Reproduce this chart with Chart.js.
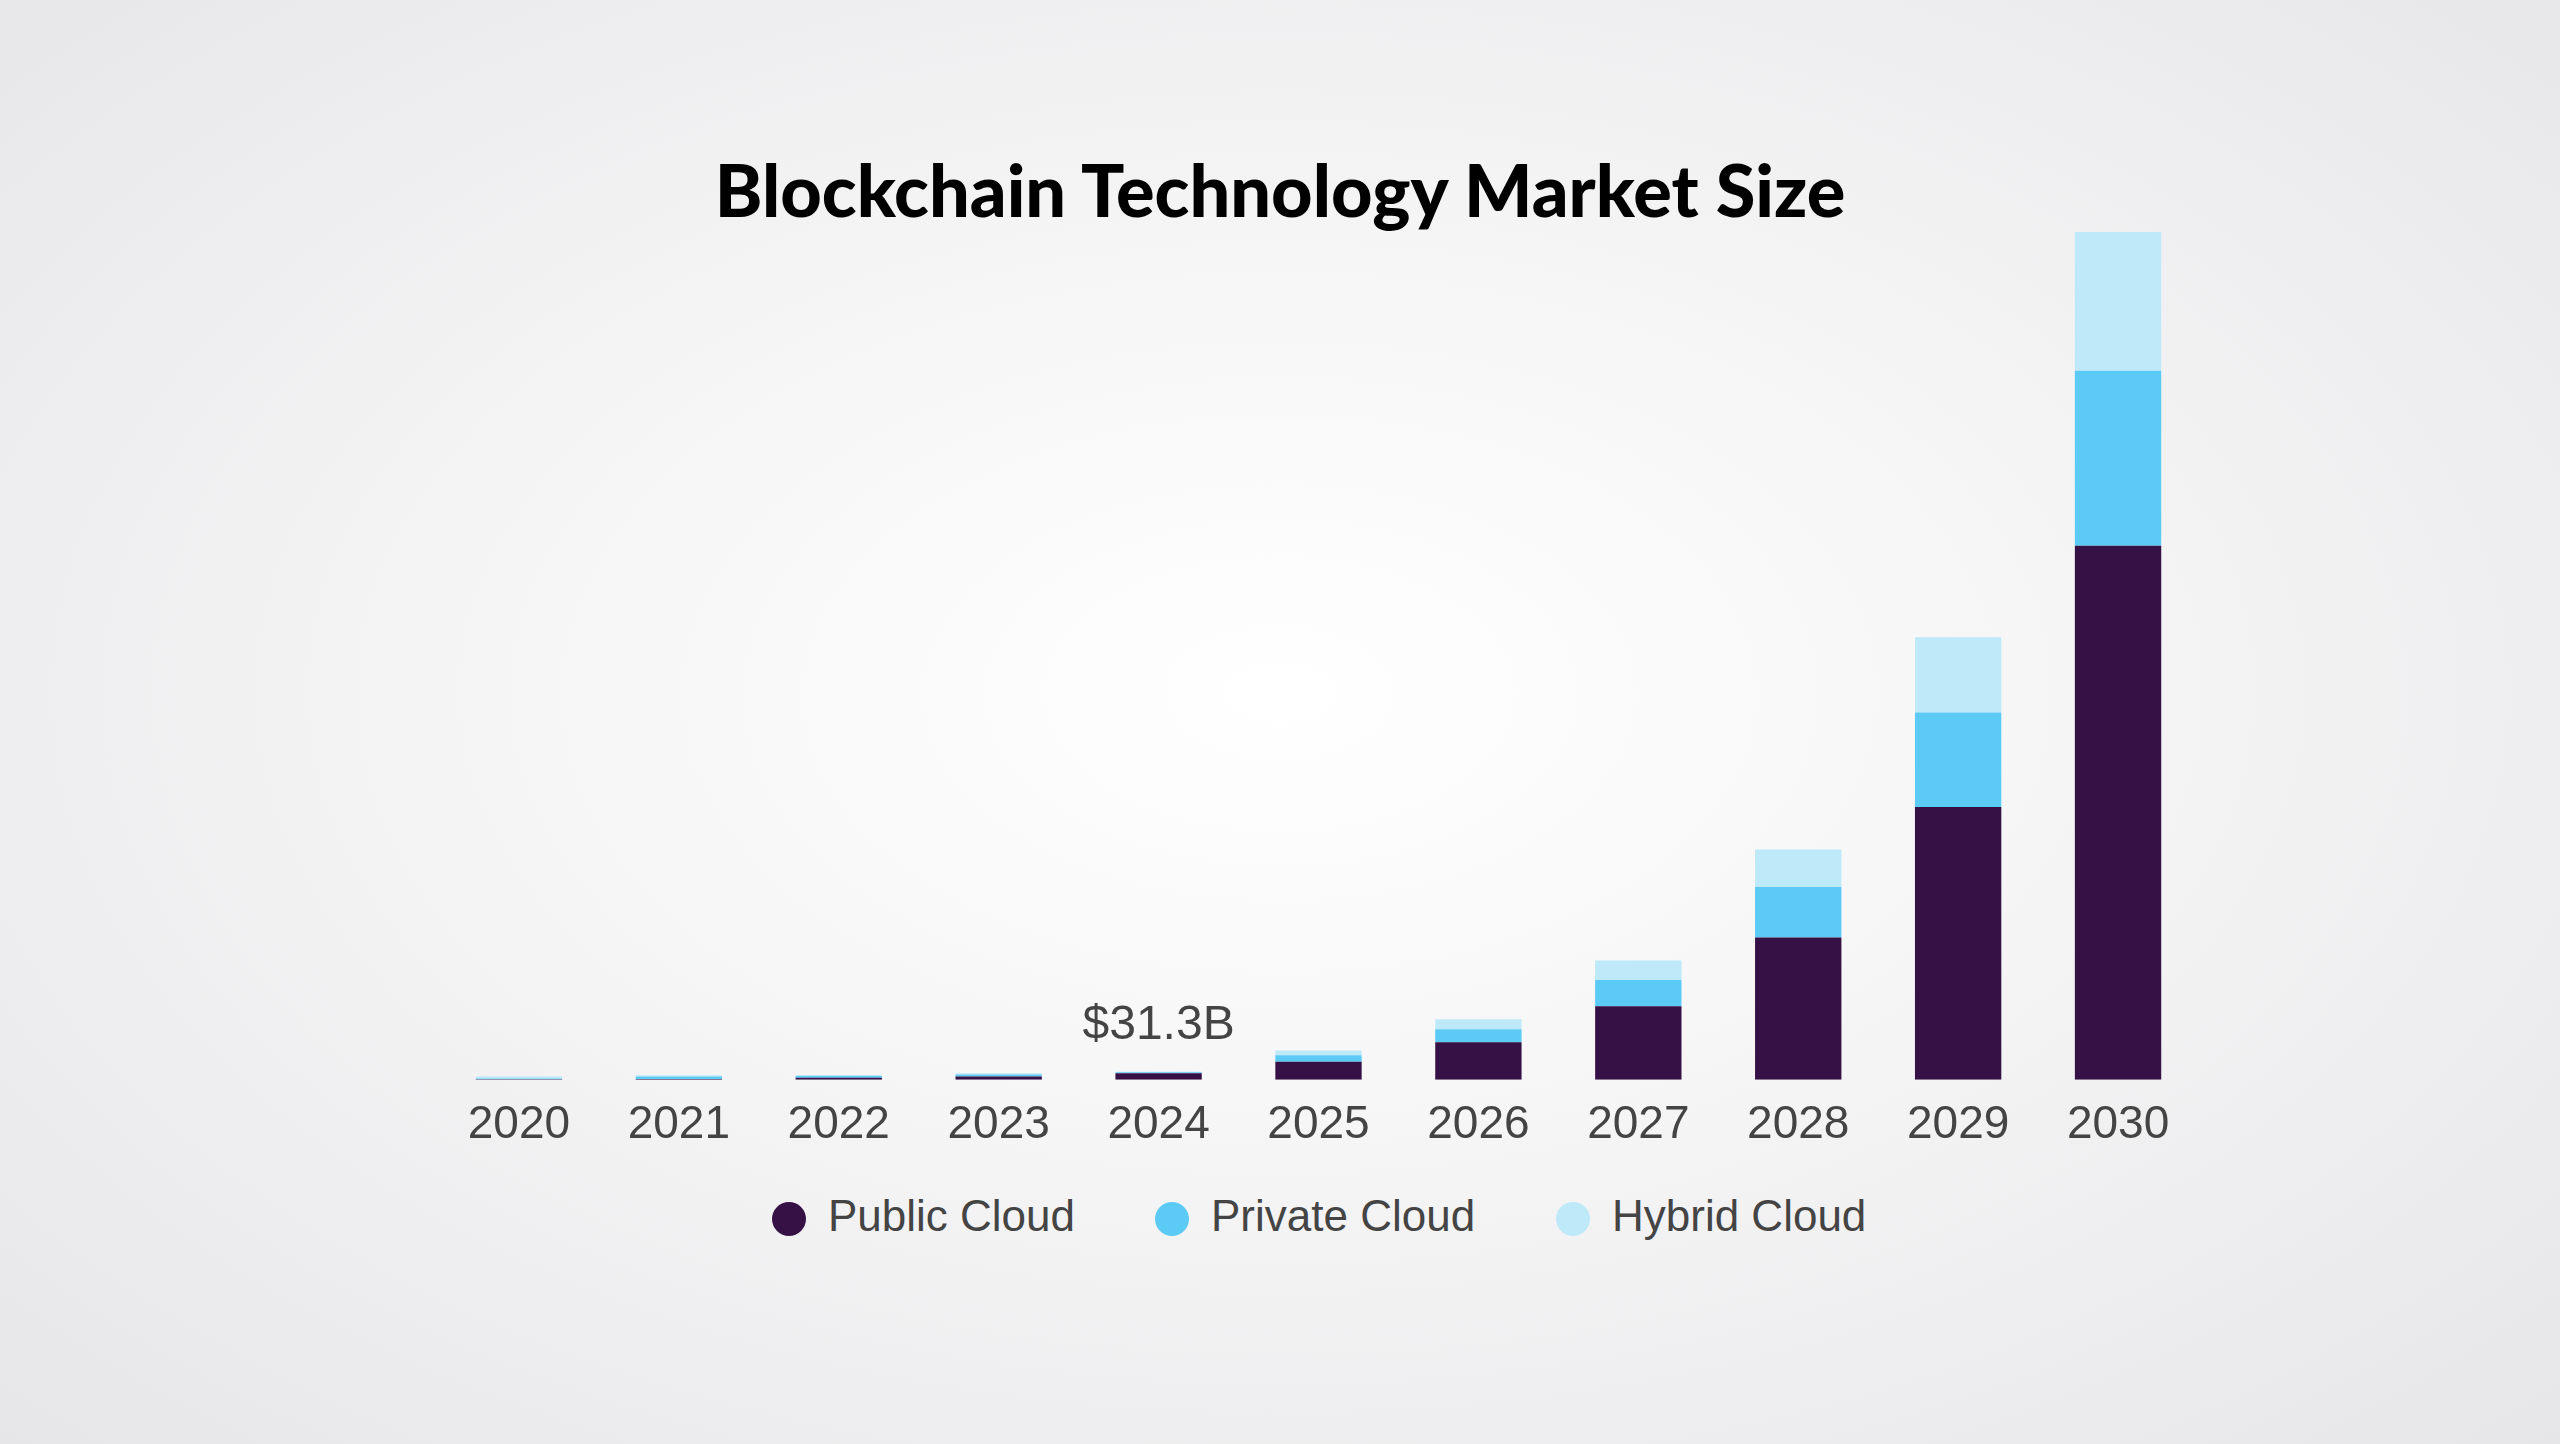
<!DOCTYPE html>
<html>
<head>
<meta charset="utf-8">
<script src="https://cdn.jsdelivr.net/npm/chart.js@4"></script>
<style>
    html, body { margin: 0; width: 2560px; height: 1444px; overflow: hidden; }
    body {
        background: radial-gradient(ellipse at 50% 48%, #ffffff 0%, #f6f6f7 40%, #e6e6e8 100%);
        font-family: 'Liberation Sans', Arial, sans-serif;
        position: relative;
    }
    #title {
        position: absolute; left: 0; width: 2560px; top: 146px; text-align: center;
        font-family: Lato, 'Open Sans', sans-serif; font-weight: 900; font-size: 72px; color: #000;
    }
    #wrap { position: absolute; left: 439px; top: 150px; width: 1759px; height: 1013px; }
    #legend { position: absolute; top: 1188px; left: 0; width: 2560px; height: 60px; }
    .item { position: absolute; font-size: 44px; color: #444; line-height: 56px; }
    .dot { display: inline-block; width: 34px; height: 34px; border-radius: 50%; vertical-align: -5px; margin-right: 22px; }
</style>
</head>
<body>
<div id="title">Blockchain Technology Market Size</div>
<div id="wrap"><canvas id="chart"></canvas></div>
<div id="legend">
    <div class="item" style="left:772px"><span class="dot" style="background:#361146"></span>Public Cloud</div>
    <div class="item" style="left:1155px"><span class="dot" style="background:#5bcbf5"></span>Private Cloud</div>
    <div class="item" style="left:1556px"><span class="dot" style="background:#bde9f9"></span>Hybrid Cloud</div>
</div>
<script>
// Data (USD billion)
const years = ['2020', '2021', '2022', '2023', '2024', '2025', '2026', '2027', '2028', '2029', '2030'];
const publicCloud = [1.9, 3.1, 7.5, 12.5, 25.0, 68.9, 144, 282, 545, 1045, 2047];
const privateCloud = [3.1, 9.4, 7.5, 7.5, 3.8, 25, 50, 100, 194, 363, 670];
const hybridCloud = [7.5, 5, 3.8, 5, 2.5, 18.8, 37.6, 75, 144, 288, 532];
const labelYear = '2024';
const labelText = '$31.3B';

// Draw the value label above the highlighted bar
const valueLabel = {
    id: 'valueLabel',
    afterDatasetsDraw(chart) {
        const i = years.indexOf(labelYear);
        const meta = chart.getDatasetMeta(2);
        const bar = meta.data[i];
        const ctx = chart.ctx;
        ctx.save();
        ctx.font = '48px "Liberation Sans", Arial, sans-serif';
        ctx.fillStyle = '#444';
        ctx.textAlign = 'center';
        ctx.textBaseline = 'bottom';
        ctx.fillText(labelText, bar.x, bar.y - 22);
        ctx.restore();
    }
};

const maxTotal = Math.max(...years.map((_, i) => publicCloud[i] + privateCloud[i] + hybridCloud[i]));

new Chart(document.getElementById('chart'), {
    type: 'bar',
    data: {
        labels: years,
        datasets: [
            { label: 'Public Cloud', data: publicCloud, backgroundColor: '#361146' },
            { label: 'Private Cloud', data: privateCloud, backgroundColor: '#5bcbf5' },
            { label: 'Hybrid Cloud', data: hybridCloud, backgroundColor: '#bde9f9' }
        ]
    },
    options: {
        responsive: true,
        maintainAspectRatio: false,
        animation: false,
        layout: { padding: { top: 82 } },
        datasets: { bar: { barPercentage: 0.54, categoryPercentage: 1 } },
        plugins: { legend: { display: false }, tooltip: { enabled: false } },
        scales: {
            x: {
                stacked: true,
                grid: { display: false },
                border: { display: false },
                ticks: { color: '#444', font: { size: 46, family: "'Liberation Sans', Arial, sans-serif" }, padding: 10 }
            },
            y: {
                stacked: true,
                display: false,
                min: 0,
                max: maxTotal
            }
        }
    },
    plugins: [valueLabel]
});
</script>
</body>
</html>
